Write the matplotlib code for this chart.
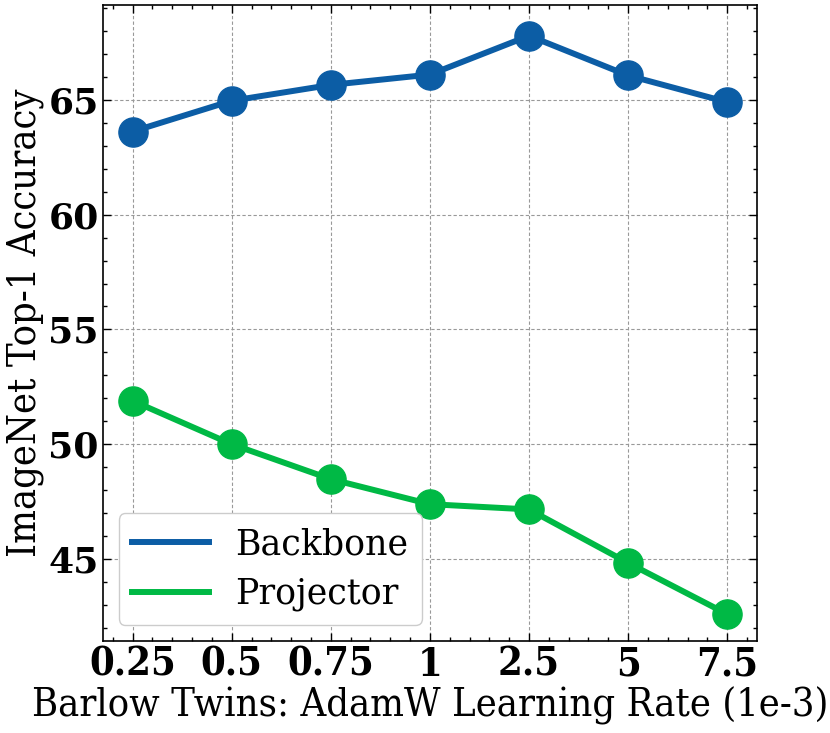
import matplotlib
matplotlib.use("Agg")
import matplotlib.pyplot as plt
from matplotlib.lines import Line2D
from matplotlib.ticker import AutoMinorLocator, MultipleLocator

lr_labels = ["0.25", "0.5", "0.75", "1", "2.5", "5", "7.5"]
backbone = [63.62, 64.96, 65.65, 66.10, 67.79, 66.06, 64.90]
projector = [51.89, 50.00, 48.48, 47.39, 47.16, 44.83, 42.60]
series_names = ["Backbone", "Projector"]
series_colors = ["#0C5DA5", "#00B945"]

plt.rcParams['font.family'] = 'DejaVu Serif'

fig = plt.figure(figsize=(8.3, 7.33), dpi=100)
ax = fig.add_axes([0.124, 0.1255, 0.788, 0.868])

x = list(range(len(lr_labels)))
for vals, col, name in zip([backbone, projector], series_colors, series_names):
    ax.plot(x, vals, color=col, lw=4.3, marker='o', ms=21, label=name)

ax.set_xlim(-0.3, 6.3)
ax.set_ylim(41.43, 69.14)
ax.set_xticks(x)
ax.set_xticklabels(lr_labels, fontsize=28.5, fontweight='bold', fontstretch='condensed')
ax.yaxis.set_major_locator(MultipleLocator(5))
ax.yaxis.set_minor_locator(MultipleLocator(1))
ax.xaxis.set_minor_locator(AutoMinorLocator(5))
for lab in ax.get_yticklabels():
    lab.set_fontsize(26)
    lab.set_fontweight('bold')

ax.tick_params(which='both', direction='in', top=True, right=True)
ax.tick_params(which='major', length=6, width=1)
ax.tick_params(which='minor', length=3, width=1)
ax.tick_params(axis='y', which='major', pad=3)
ax.grid(True, which='major', linestyle=(0, (3, 2)), color='#999999', lw=0.8)
for s in ax.spines.values():
    s.set_linewidth(1.2)

ax.set_xlabel('Barlow Twins: AdamW Learning Rate (1e-3)', fontsize=28.5, fontstretch='condensed', labelpad=2)
ax.set_ylabel('ImageNet Top-1 Accuracy', fontsize=28.5, fontstretch='condensed', labelpad=3)

handles = [Line2D([], [], color=c, lw=4.3) for c in series_colors]
leg = ax.legend(handles, series_names, loc='lower left', fontsize=25, frameon=True, fancybox=True,
                edgecolor='#cccccc', framealpha=1.0, borderpad=0.4, handlelength=2.2,
                handletextpad=0.75, borderaxespad=0.45, labelspacing=0.45)

fig.savefig('out.png', dpi=100)
